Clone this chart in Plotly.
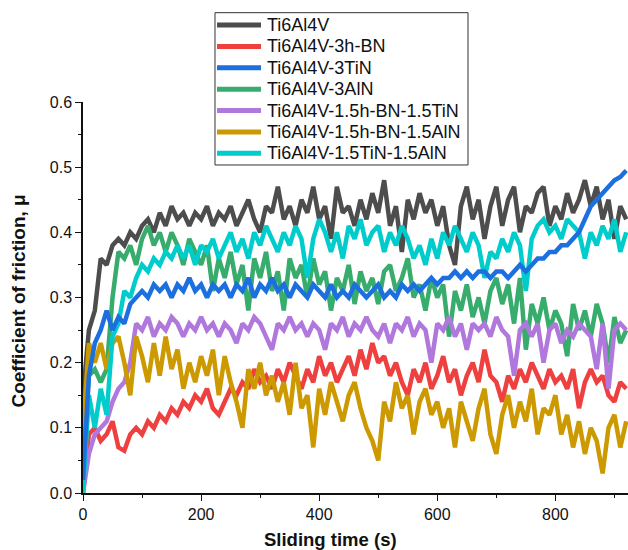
import plotly.graph_objects as go

time_s = list(range(0, 930, 10))

ti6al4v = [0.15, 0.25, 0.28, 0.36, 0.35, 0.38, 0.39, 0.38, 0.40, 0.39,
           0.41, 0.42, 0.40, 0.43, 0.41, 0.44, 0.42, 0.43, 0.41, 0.43,
           0.42, 0.44, 0.41, 0.43, 0.42, 0.44, 0.41, 0.43, 0.45, 0.42,
           0.40, 0.44, 0.43, 0.47, 0.42, 0.44, 0.41, 0.45, 0.43, 0.47,
           0.42, 0.44, 0.39, 0.47, 0.43, 0.44, 0.41, 0.45, 0.42, 0.46,
           0.43, 0.48, 0.41, 0.44, 0.37, 0.45, 0.42, 0.46, 0.43, 0.45,
           0.41, 0.44, 0.38, 0.35, 0.44, 0.47, 0.42, 0.45, 0.39, 0.44,
           0.47, 0.41, 0.45, 0.47, 0.40, 0.44, 0.43, 0.46, 0.47, 0.41,
           0.44, 0.42, 0.46, 0.43, 0.45, 0.48, 0.44, 0.47, 0.42, 0.45,
           0.39, 0.44, 0.42]

hbn_3 = [0.00, 0.09, 0.10, 0.08, 0.09, 0.11, 0.07, 0.065, 0.09, 0.10,
         0.09, 0.11, 0.10, 0.12, 0.11, 0.13, 0.12, 0.14, 0.13, 0.15,
         0.14, 0.16, 0.13, 0.12, 0.14, 0.16, 0.15, 0.17, 0.16, 0.19,
         0.17, 0.18, 0.16, 0.19, 0.17, 0.20, 0.18, 0.16, 0.19, 0.17,
         0.21, 0.18, 0.20, 0.17, 0.19, 0.21, 0.18, 0.22, 0.19, 0.23,
         0.20, 0.21, 0.18, 0.20, 0.17, 0.15, 0.19, 0.17, 0.20, 0.16,
         0.18, 0.21, 0.17, 0.19, 0.15, 0.18, 0.20, 0.17, 0.22, 0.18,
         0.17, 0.14, 0.18, 0.16, 0.19, 0.17, 0.20, 0.18, 0.16, 0.19,
         0.17, 0.18, 0.16, 0.19, 0.13, 0.17, 0.19, 0.17, 0.18, 0.15,
         0.14, 0.17, 0.16]

tin_3 = [0.02, 0.18, 0.23, 0.25, 0.28, 0.25, 0.27, 0.26, 0.29, 0.30,
         0.31, 0.30, 0.32, 0.31, 0.32, 0.30, 0.32, 0.31, 0.33, 0.31,
         0.32, 0.30, 0.32, 0.31, 0.32, 0.30, 0.32, 0.31, 0.33, 0.30,
         0.32, 0.31, 0.33, 0.31, 0.32, 0.30, 0.32, 0.31, 0.30, 0.32,
         0.31, 0.30, 0.32, 0.30, 0.31, 0.30, 0.32, 0.31, 0.30, 0.31,
         0.32, 0.30, 0.31, 0.30, 0.32, 0.31, 0.32, 0.31, 0.32, 0.33,
         0.32, 0.33, 0.33, 0.34, 0.33, 0.34, 0.33, 0.34, 0.34, 0.33,
         0.34, 0.34, 0.33, 0.34, 0.35, 0.34, 0.35, 0.36, 0.36, 0.37,
         0.37, 0.38, 0.38, 0.39, 0.40, 0.42, 0.44, 0.45, 0.46, 0.47,
         0.48, 0.485, 0.495]

aln_3 = [0.05, 0.18, 0.19, 0.17, 0.19, 0.30, 0.37, 0.36, 0.38, 0.35,
         0.39, 0.41, 0.38, 0.40, 0.37, 0.40, 0.38, 0.35, 0.39, 0.37,
         0.35, 0.38, 0.31, 0.36, 0.33, 0.37, 0.32, 0.35, 0.28, 0.36,
         0.33, 0.37, 0.31, 0.34, 0.28, 0.36, 0.33, 0.35, 0.30, 0.36,
         0.32, 0.34, 0.28, 0.33, 0.31, 0.35, 0.29, 0.34, 0.31, 0.33,
         0.29, 0.34, 0.35, 0.31, 0.33, 0.36, 0.30, 0.32, 0.28, 0.33,
         0.30, 0.32, 0.24, 0.31, 0.28, 0.32, 0.27, 0.30, 0.26, 0.31,
         0.33, 0.29, 0.32, 0.26, 0.33, 0.22, 0.29, 0.26, 0.30, 0.25,
         0.28, 0.26, 0.21, 0.29, 0.25, 0.28, 0.24, 0.29, 0.26, 0.20,
         0.27, 0.23, 0.25]

hbn_tin = [0.00, 0.06, 0.09, 0.10, 0.11, 0.14, 0.16, 0.17, 0.20, 0.26,
           0.25, 0.27, 0.24, 0.26, 0.25, 0.27, 0.26, 0.24, 0.26, 0.25,
           0.27, 0.25, 0.26, 0.24, 0.26, 0.25, 0.23, 0.26, 0.25, 0.27,
           0.26, 0.24, 0.22, 0.26, 0.25, 0.27, 0.25, 0.26, 0.24, 0.26,
           0.25, 0.22, 0.26, 0.25, 0.27, 0.24, 0.26, 0.25, 0.27, 0.25,
           0.24, 0.26, 0.23, 0.26, 0.25, 0.27, 0.24, 0.26, 0.25, 0.20,
           0.26, 0.25, 0.27, 0.24, 0.26, 0.22, 0.26, 0.25, 0.26, 0.24,
           0.27, 0.25, 0.24, 0.18, 0.25, 0.26, 0.24, 0.26, 0.20, 0.25,
           0.26, 0.23, 0.25, 0.24, 0.26, 0.25, 0.24, 0.19, 0.26, 0.16,
           0.25, 0.26, 0.25]

hbn_aln = [0.10, 0.23, 0.20, 0.23, 0.19, 0.23, 0.24, 0.20, 0.15, 0.24,
           0.21, 0.17, 0.23, 0.18, 0.24, 0.19, 0.22, 0.16, 0.20, 0.17,
           0.21, 0.18, 0.22, 0.15, 0.21, 0.17, 0.14, 0.10, 0.19, 0.16,
           0.20, 0.15, 0.18, 0.14, 0.17, 0.12, 0.20, 0.13, 0.15, 0.07,
           0.16, 0.12, 0.17, 0.14, 0.11, 0.15, 0.17, 0.13, 0.10, 0.08,
           0.05, 0.14, 0.11, 0.17, 0.13, 0.15, 0.09, 0.14, 0.16, 0.12,
           0.14, 0.10, 0.13, 0.07, 0.14, 0.11, 0.08, 0.13, 0.16, 0.09,
           0.06, 0.12, 0.15, 0.10, 0.14, 0.11, 0.16, 0.09, 0.13, 0.12,
           0.15, 0.09, 0.12, 0.07, 0.11, 0.06, 0.10, 0.08, 0.03, 0.10,
           0.12, 0.07, 0.11]

tin_aln = [0.00, 0.15, 0.10, 0.16, 0.12, 0.24, 0.26, 0.31, 0.30, 0.33,
           0.35, 0.34, 0.36, 0.35, 0.37, 0.36, 0.38, 0.36, 0.38, 0.35,
           0.38, 0.37, 0.39, 0.36, 0.38, 0.40, 0.37, 0.39, 0.36, 0.40,
           0.38, 0.41, 0.39, 0.37, 0.40, 0.38, 0.41, 0.39, 0.33, 0.39,
           0.42, 0.40, 0.37, 0.40, 0.36, 0.41, 0.39, 0.42, 0.38, 0.40,
           0.41, 0.37, 0.40, 0.38, 0.41, 0.39, 0.36, 0.38, 0.35, 0.39,
           0.36, 0.40, 0.38, 0.41, 0.39, 0.37, 0.40, 0.38, 0.33, 0.37,
           0.36, 0.39, 0.37, 0.40, 0.38, 0.31, 0.39, 0.41, 0.42, 0.40,
           0.41, 0.39, 0.42, 0.41, 0.40, 0.36, 0.40, 0.38, 0.41, 0.39,
           0.42, 0.37, 0.40]

series_names = ["Ti6Al4V", "Ti6Al4V-3h-BN", "Ti6Al4V-3TiN", "Ti6Al4V-3AlN",
                "Ti6Al4V-1.5h-BN-1.5TiN", "Ti6Al4V-1.5h-BN-1.5AlN",
                "Ti6Al4V-1.5TiN-1.5AlN"]
series_values = [ti6al4v, hbn_3, tin_3, aln_3, hbn_tin, hbn_aln, tin_aln]
colors = ["#4d4d4d", "#ef4040", "#1b6fdf", "#38ac6c", "#b077dc", "#cc9900", "#00cccc"]
draw_order = [0, 1, 3, 4, 5, 6, 2]

FONT = "Liberation Sans, Arial"

fig = go.Figure()
for i in draw_order:
    fig.add_trace(go.Scatter(x=time_s, y=series_values[i], mode="lines",
                             name=series_names[i], showlegend=False,
                             line=dict(color=colors[i], width=4.5)))

# Legend box drawn in paper coordinates (matches the boxed legend of the original)
leg_x0, leg_x1, leg_y0, leg_y1 = 0.2422, 0.7064, 0.8389, 1.2284
row_top, row_step = 1.1969, 0.0547
shapes = [dict(type="rect", xref="paper", yref="paper", x0=leg_x0, x1=leg_x1,
               y0=leg_y0, y1=leg_y1, line=dict(color="#333", width=1),
               fillcolor="white", layer="above")]
annotations = []
for k, (name, col) in enumerate(zip(series_names, colors)):
    yy = row_top - k * row_step
    shapes.append(dict(type="line", xref="paper", yref="paper", x0=0.2459, x1=0.3266,
                       y0=yy, y1=yy, line=dict(color=col, width=5), layer="above"))
    annotations.append(dict(text=name, xref="paper", yref="paper", x=0.3339, y=yy,
                            xanchor="left", yanchor="middle", showarrow=False,
                            font=dict(family=FONT, size=18, color="#111")))

annotations += [
    dict(text="<b>Sliding time (s)</b>", xref="paper", yref="paper",
         x=0.455, y=-0.118, xanchor="center", yanchor="middle", showarrow=False,
         font=dict(family=FONT, size=18.5, color="#111")),
    dict(text="<b>Coefficient of friction, μ</b>", xref="paper", yref="paper",
         x=-0.119, y=0.49, xanchor="center", yanchor="middle", showarrow=False,
         textangle=-90, font=dict(family=FONT, size=19, color="#111")),
]

fig.update_layout(
    width=628, height=550,
    margin=dict(l=83, r=0, t=102, b=57, autoexpand=False),
    paper_bgcolor="white", plot_bgcolor="white",
    font=dict(family=FONT, size=16, color="#111"),
    showlegend=False,
    xaxis=dict(range=[0, 923], showgrid=False, zeroline=False,
               showline=True, linecolor="#111", linewidth=1.5,
               ticks="outside", ticklen=6, tickwidth=1.2, tickcolor="#111",
               tickvals=[0, 200, 400, 600, 800],
               minor=dict(ticks="outside", ticklen=3, tickwidth=1.2, tickcolor="#111",
                          tickvals=[100, 300, 500, 700, 900])),
    yaxis=dict(range=[0, 0.6], showgrid=False, zeroline=False,
               showline=True, linecolor="#111", linewidth=1.5,
               ticks="outside", ticklen=6, tickwidth=1.2, tickcolor="#111",
               tickvals=[0, 0.1, 0.2, 0.3, 0.4, 0.5, 0.6], tickformat=".1f",
               minor=dict(ticks="outside", ticklen=3, tickwidth=1.2, tickcolor="#111",
                          tickvals=[0.05, 0.15, 0.25, 0.35, 0.45, 0.55])),
    shapes=shapes,
    annotations=annotations,
)

fig.write_html("out.html", config={"displayModeBar": False},
               post_script="document.body.style.margin='0';document.body.style.overflow='hidden';")
